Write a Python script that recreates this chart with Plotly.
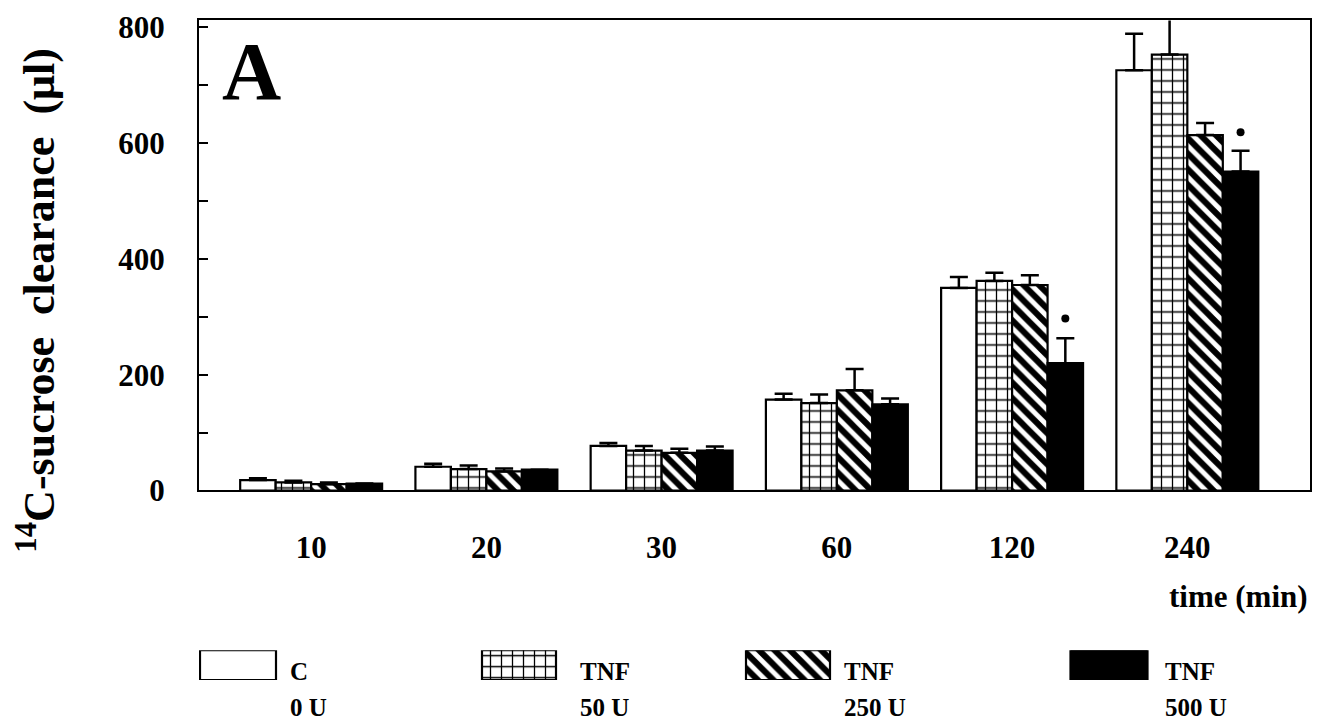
import plotly.graph_objects as go

# ---- data ----
times = ["10", "20", "30", "60", "120", "240"]
c_0u = [18, 41, 77, 157, 350, 726]
c_0u_err = [3, 5, 5, 10, 19, 63]
tnf_50u = [14, 37, 69, 151, 362, 753]
tnf_50u_err = [3, 6, 8, 15, 14, 62]
tnf_250u = [11, 33, 65, 173, 355, 614]
tnf_250u_err = [3, 5, 7, 37, 17, 21]
tnf_500u = [12, 36, 69, 149, 220, 551]
tnf_500u_err = [0, 0, 7, 10, 43, 36]
sig_idx = [4, 5]
sig_y = [297, 619]

series = [
    ("C 0 U", c_0u, c_0u_err, dict(color="white")),
    ("TNF 50 U", tnf_50u, tnf_50u_err,
     dict(color="white", pattern=dict(shape="+", size=11, solidity=0.22, fgcolor="black",
                                      bgcolor="white", fgopacity=1, fillmode="replace"))),
    ("TNF 250 U", tnf_250u, tnf_250u_err,
     dict(color="white", pattern=dict(shape="\\", size=11, solidity=0.55, fgcolor="black",
                                      bgcolor="white", fgopacity=1, fillmode="replace"))),
    ("TNF 500 U", tnf_500u, tnf_500u_err, dict(color="black")),
]
legend_top = ["C", "TNF", "TNF", "TNF"]
legend_bottom = ["0 U", "50 U", "250 U", "500 U"]

FONT = "Liberation Serif"
xpos = list(range(len(times)))
bargap = 0.19
barw = (1 - bargap) / 4

W, H = 1327, 740
ML, MR, MT, MB = 199, 17, 20, 0
plot_h = H - MT - MB
F = 0.977  # the photographed page appears vertically compressed by this factor


def py(pix):
    return (H - MB - pix / F) / plot_h


fig = go.Figure()
for name, vals, err, mk in series:
    marker = dict(mk)
    marker["line"] = dict(color="black", width=2.2)
    fig.add_trace(go.Bar(
        x=xpos, y=vals, name=name, marker=marker,
        error_y=dict(type="data", symmetric=False, array=err,
                     arrayminus=[0] * len(err), color="black", thickness=2.5, width=9),
        showlegend=False, xaxis="x", yaxis="y",
    ))

# significance dots above the 500 U bars
fig.add_trace(go.Scatter(
    x=[i + 1.5 * barw for i in sig_idx], y=sig_y, mode="markers",
    marker=dict(color="black", size=8), showlegend=False, xaxis="x", yaxis="y",
))

# legend swatches drawn on a hidden auxiliary axis
sw_centers = [39, 320, 589, 910]
sw_widths = [76, 74, 84, 77]
for (name, vals, err, mk), cx, w in zip(series, sw_centers, sw_widths):
    marker = dict(mk)
    marker["line"] = dict(color="black", width=2.2)
    fig.add_trace(go.Bar(
        x=[cx], y=[1], width=[w], marker=marker, showlegend=False,
        xaxis="x2", yaxis="y2", hoverinfo="skip",
    ))

tickfont = dict(family=FONT, size=31, color="black", weight="bold")

fig.update_layout(
    width=W, height=H,
    margin=dict(l=ML, r=MR, t=MT, b=MB),
    paper_bgcolor="white", plot_bgcolor="white",
    barmode="group", bargap=bargap, bargroupgap=0,
    xaxis=dict(
        domain=[0, 1], range=[-0.64, 5.70], tickvals=xpos, ticktext=times,
        showline=True, mirror=True, linecolor="black", linewidth=2,
        ticks="", showgrid=False, zeroline=False, tickfont=tickfont,
        ticklabelstandoff=28, anchor="y",
    ),
    yaxis=dict(
        domain=[py(491), py(20)], range=[0, 812],
        tickvals=[0, 200, 400, 600, 800],
        showline=True, mirror=True, linecolor="black", linewidth=2,
        ticks="inside", ticklen=9, tickwidth=2, tickcolor="black",
        minor=dict(tickvals=[100, 300, 500, 700], ticks="inside", ticklen=9, tickwidth=2, tickcolor="black"),
        showgrid=False, zeroline=False, tickfont=tickfont,
        ticklabelstandoff=26, anchor="x",
    ),
    xaxis2=dict(domain=[0, 1], range=[0, 1111], visible=False, anchor="y2"),
    yaxis2=dict(domain=[py(681), py(651)], range=[0, 1], visible=False, anchor="x2"),
)

annotations = [
    dict(text="A", x=0.019, y=py(20), yshift=-4, xref="paper", yref="paper", xanchor="left", yanchor="top",
         showarrow=False, font=dict(family=FONT, size=82, color="black", weight="bold")),
    dict(text="time (min)", x=1.0, y=py(597), xref="paper", yref="paper", xanchor="right", yanchor="middle",
         showarrow=False, font=dict(family=FONT, size=31, color="black", weight="bold")),
    dict(text="<sup>14</sup>C-sucrose\u00a0 clearance\u00a0 (μl)", x=-0.146, y=py(300),
         xref="paper", yref="paper", xanchor="center", yanchor="middle", textangle=-90, showarrow=False,
         font=dict(family=FONT, size=44, color="black", weight="bold")),
]
# legend labels
label_x = [89, 379, 643, 964]
for lx, top, bot in zip(label_x, legend_top, legend_bottom):
    annotations.append(dict(text=top, x=lx, y=py(672), xref="x2", yref="paper", xanchor="left",
                            yanchor="middle", showarrow=False,
                            font=dict(family=FONT, size=25, color="black", weight="bold")))
    annotations.append(dict(text=bot, x=lx, y=py(708), xref="x2", yref="paper", xanchor="left",
                            yanchor="middle", showarrow=False,
                            font=dict(family=FONT, size=25, color="black", weight="bold")))
fig.update_layout(annotations=annotations)

fig.write_html("out.html", config={"displayModeBar": False},
               post_script="document.body.style.margin='0px';")
